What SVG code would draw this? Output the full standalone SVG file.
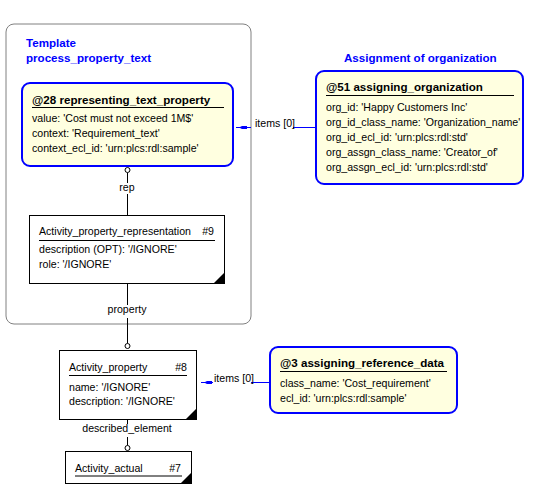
<svg xmlns="http://www.w3.org/2000/svg" width="539" height="494" viewBox="0 0 539 494">
<style>
text{font-family:"Liberation Sans",Arial,sans-serif;font-size:10.6px;fill:#000}
.ttl{font-weight:bold;font-size:11.6px;fill:#0000ff}
.bt{font-weight:bold;font-size:11.6px}
.blue{fill:#ffffe0;stroke:#0000ff;stroke-width:2}
.ent{fill:#fff;stroke:#000;stroke-width:1}
.ul{stroke:#000;stroke-width:1}
.cn{stroke:#000;stroke-width:1;fill:none}
.bc{stroke:#0000ff;stroke-width:1;fill:none}
.ring{fill:#fff;stroke:#000;stroke-width:1}
.lbl{text-anchor:middle}
</style>
<g id="template">
<rect x="6" y="24" width="245" height="300" rx="8" ry="8" fill="#fff" stroke="#808080" stroke-width="1"/>
<text class="ttl" x="26" y="47">Template</text>
<text class="ttl" x="26" y="62">process_property_text</text>
</g>
<text class="ttl" x="344" y="62">Assignment of organization</text>
<g id="connectors">
<path class="cn" d="M127.5,172.5V183M127.5,194V215"/>
<circle class="ring" cx="127.5" cy="170" r="2.5"/>
<text class="lbl" x="127" y="191">rep</text>
<path class="cn" d="M127.5,283V305M127.5,318V343.5"/>
<circle class="ring" cx="127.5" cy="346" r="2.5"/>
<text class="lbl" x="127" y="313">property</text>
<path class="cn" d="M127.5,419V424M127.5,437V445.5"/>
<circle class="ring" cx="127.5" cy="448" r="2.5"/>
<text class="lbl" x="127" y="432">described_element</text>
<path class="bc" d="M236,127.5H251M293,127.5H316"/>
<polygon points="239,127.5 242,126 247,126 247,129 242,129" fill="#0000ff"/>
<text x="255" y="127">items [0]</text>
<path class="bc" d="M201,382.5H213M251,382.5H270"/>
<polygon points="204,382.5 207,381 212,381 212,384 207,384" fill="#0000ff"/>
<text x="214" y="382">items [0]</text>
</g>
<g id="n28">
<rect class="blue" x="22" y="83" width="211" height="83" rx="8" ry="8"/>
<text class="bt" x="32" y="104">@28 representing_text_property</text>
<line class="ul" x1="32" y1="107.5" x2="224" y2="107.5"/>
<text x="32" y="122">value: 'Cost must not exceed 1M$'</text>
<text x="32" y="137">context: 'Requirement_text'</text>
<text x="32" y="152">context_ecl_id: 'urn:plcs:rdl:sample'</text>
</g>
<g id="n51">
<rect class="blue" x="316" y="71" width="207" height="113" rx="8" ry="8"/>
<text class="bt" x="326" y="91">@51 assigning_organization</text>
<line class="ul" x1="326" y1="95.5" x2="514" y2="95.5"/>
<text x="326" y="111">org_id: 'Happy Customers Inc'</text>
<text x="326" y="126">org_id_class_name: 'Organization_name'</text>
<text x="326" y="141">org_id_ecl_id: 'urn:plcs:rdl:std'</text>
<text x="326" y="156">org_assgn_class_name: 'Creator_of'</text>
<text x="326" y="171">org_assgn_ecl_id: 'urn:plcs:rdl:std'</text>
</g>
<g id="n9">
<rect class="ent" x="29.5" y="215.5" width="195" height="68"/>
<polygon points="214,283 224,273 224,283"/>
<text x="39" y="235">Activity_property_representation</text>
<text x="214" y="235" text-anchor="end">#9</text>
<line class="ul" x1="39" y1="240.5" x2="215" y2="240.5"/>
<text x="39" y="253">description (OPT): '/IGNORE'</text>
<text x="39" y="268">role: '/IGNORE'</text>
</g>
<g id="n8">
<rect class="ent" x="59.5" y="350.5" width="137" height="69"/>
<polygon points="186,419 196,409 196,419"/>
<text x="69" y="371">Activity_property</text>
<text x="187" y="371" text-anchor="end">#8</text>
<line class="ul" x1="69" y1="375.5" x2="187" y2="375.5"/>
<text x="69" y="391">name: '/IGNORE'</text>
<text x="69" y="405">description: '/IGNORE'</text>
</g>
<g id="n3">
<rect class="blue" x="270" y="347" width="187" height="66" rx="8" ry="8"/>
<text class="bt" x="280" y="367">@3 assigning_reference_data</text>
<line class="ul" x1="280" y1="371.5" x2="447" y2="371.5"/>
<text x="280" y="387">class_name: 'Cost_requirement'</text>
<text x="280" y="402">ecl_id: 'urn:plcs:rdl:sample'</text>
</g>
<g id="n7">
<rect class="ent" x="65.5" y="451.5" width="126" height="32"/>
<polygon points="181,483 191,473 191,483"/>
<text x="75" y="472">Activity_actual</text>
<text x="181" y="472" text-anchor="end">#7</text>
<line class="ul" x1="75" y1="476" x2="182" y2="476"/>
</g>
</svg>
